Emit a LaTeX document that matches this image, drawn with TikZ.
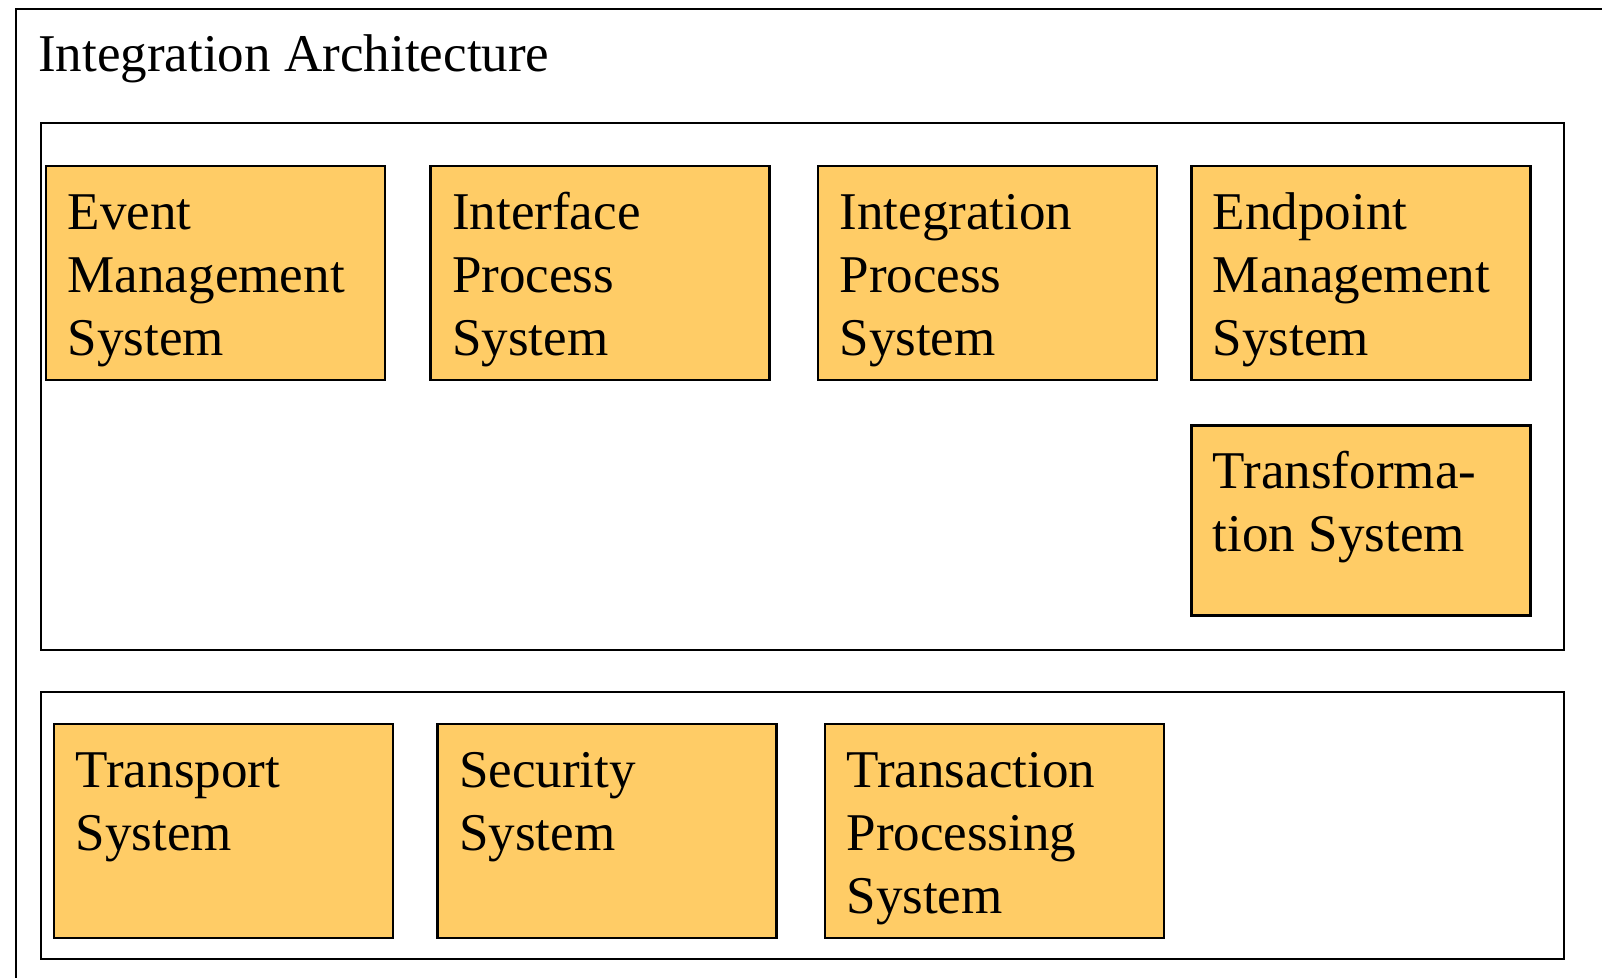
\documentclass[tikz,border=0pt]{standalone}
\usepackage{fontspec}
\setmainfont{Liberation Serif}
\usetikzlibrary{positioning}
\definecolor{sysorange}{RGB}{255,204,102}
\newcommand\archfont{\fontsize{30.2}{36.1}\selectfont}
\newcommand\sysstrut{\rule{0pt}{0.75em}}
\tikzset{
  archpic/.style={
    x=0.02cm
    ,y=-0.02cm
    ,line width=1.4pt
  }
  ,frame/.style={draw=black,anchor=north west,inner sep=0pt}
  ,layer/.style={frame,minimum width=30.46cm}
  ,sysbox/.style={frame,fill=sysorange,minimum width=6.78cm,minimum height=4.28cm}
  ,systext/.style={anchor=north west,align=left,inner sep=0pt,font=\archfont}
  ,title/.style={anchor=base west,inner sep=0pt,font=\archfont}
}

\begin{document}
\begin{tikzpicture}[archpic]
    \useasboundingbox (0,0) rectangle (1602,977);
    \clip (0,0) rectangle (1602,977);

    % outer frame, runs off the page
    \node[frame,minimum width=32.5cm,minimum height=20cm] (archframe) at (15,8) {};
    \node[title] (archtitle) at (37,71.5) {Integration Architecture};

    % upper layer
    \node[layer,minimum height=10.54cm] (uplayer) at (40,122) {};
    \node[sysbox] (evtsys) at (45,165) {};
    \node[sysbox,right=0.86cm of evtsys] (ifcsys) {};
    \node[sysbox,right=0.92cm of ifcsys] (intsys) {};
    \node[sysbox,right=0.64cm of intsys] (endsys) {};
    \node[sysbox,below=0.86cm of endsys,minimum height=3.8cm] (trfsys) {};

    \node[systext] (evttxt) at ([shift={(0.43cm,-0.46cm)}]evtsys.north west) {\sysstrut Event\\Management\\System};
    \node[systext] (ifctxt) at ([shift={(0.43cm,-0.46cm)}]ifcsys.north west) {\sysstrut Interface\\Process\\System};
    \node[systext] (inttxt) at ([shift={(0.43cm,-0.46cm)}]intsys.north west) {\sysstrut Integration\\Process\\System};
    \node[systext] (endtxt) at ([shift={(0.43cm,-0.46cm)}]endsys.north west) {\sysstrut Endpoint\\Management\\System};
    \node[systext] (trftxt) at ([shift={(0.43cm,-0.46cm)}]trfsys.north west) {\sysstrut Transforma-\\tion System};

    % lower layer
    \node[layer,minimum height=5.34cm] (lowlayer) at (40,691) {};
    \node[sysbox] (trpsys) at (53,723) {};
    \node[sysbox,right=0.84cm of trpsys] (secsys) {};
    \node[sysbox,right=0.92cm of secsys] (trxsys) {};

    \node[systext] (trptxt) at ([shift={(0.43cm,-0.46cm)}]trpsys.north west) {\sysstrut Transport\\System};
    \node[systext] (sectxt) at ([shift={(0.43cm,-0.46cm)}]secsys.north west) {\sysstrut Security\\System};
    \node[systext] (trxtxt) at ([shift={(0.43cm,-0.46cm)}]trxsys.north west) {\sysstrut Transaction\\Processing\\System};
\end{tikzpicture}
\end{document}
